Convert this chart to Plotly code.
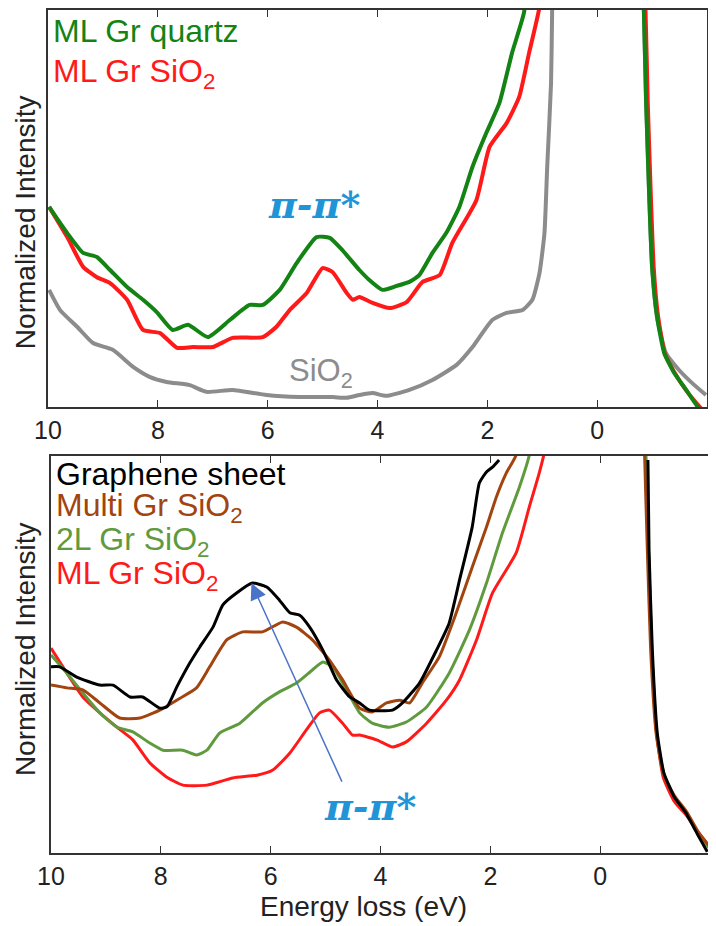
import plotly.graph_objects as go

# ---------------- data (energy loss in eV, normalized intensity in a.u.) ----------------
# Top panel
top_quartz_x = [9.98, 9.65, 9.36, 9.11, 8.87, 8.56, 8.27, 8.02, 7.73, 7.45, 7.09, 6.69, 6.33, 6.09,
                5.78, 5.47, 5.11, 4.87, 4.64, 4.33, 4.15, 3.91, 3.65, 3.42, 3.24, 3.00, 2.75, 2.51,
                2.27, 2.02, 1.78, 1.55, 1.33, 1.24,
                -0.80, -0.85, -0.89, -0.95, -1.00, -1.09, -1.22, -1.40, -1.62, -1.85, -2.00]
top_quartz_y = [50.4, 43.8, 38.8, 37.8, 34.5, 30.2, 27.0, 23.9, 19.4, 20.7, 17.6, 21.9, 25.7, 25.7,
                29.5, 36.3, 42.8, 42.6, 39.5, 34.5, 32.0, 29.5, 30.5, 31.5, 33.2, 38.8, 43.8, 50.4,
                60.5, 69.0, 76.6, 89.2, 99.5, 115,
                115, 100, 77.3, 52.1, 35.3, 22.7, 13.6, 8.6, 4.3, -0.3, -2.0]

top_ml_x = [9.98, 9.65, 9.36, 9.11, 8.87, 8.56, 8.27, 7.96, 7.65, 7.36, 7.00, 6.64, 6.09, 5.84,
            5.60, 5.29, 5.00, 4.82, 4.56, 4.45, 4.33, 4.09, 3.78, 3.47, 3.18, 2.87, 2.64, 2.20,
            1.96, 1.65, 1.42, 1.24, 1.05, 0.96,
            -0.82, -0.88, -0.92, -0.98, -1.03, -1.11, -1.23, -1.41, -1.63, -1.85, -2.00]
top_ml_y = [50.4, 42.8, 35.3, 32.7, 31.2, 27.0, 19.4, 18.6, 14.9, 15.1, 15.1, 17.4, 17.6, 20.2,
            24.4, 28.7, 35.0, 34.0, 28.7, 27.0, 27.7, 26.2, 24.9, 26.4, 31.5, 33.2, 41.3, 52.1,
            65.5, 71.5, 78.1, 89.2, 100.8, 115,
            115, 100, 77.0, 52.0, 35.0, 22.7, 13.6, 8.6, 4.0, 0.3, -2.0]

top_sio2_x = [9.98, 9.78, 9.47, 9.18, 8.82, 8.45, 8.15, 7.84, 7.42, 7.11, 6.64, 6.02, 5.42, 4.82,
              4.56, 4.33, 4.09, 3.84, 3.42, 3.00, 2.56, 2.27, 1.91, 1.65, 1.36, 1.18, 1.05, 0.96,
              0.91, 0.84, 0.82, 0.80,
              -0.82, -0.85, -0.89, -0.95, -1.00, -1.09, -1.25, -1.49, -1.73, -1.98]
top_sio2_y = [29.5, 24.4, 20.2, 16.1, 14.4, 10.1, 7.6, 6.3, 5.5, 3.8, 4.3, 3.0, 2.5, 2.5,
              2.3, 3.0, 3.5, 2.8, 4.3, 6.8, 10.6, 15.1, 21.9, 23.7, 24.4, 27.0, 33.8, 43.8,
              60.5, 81.6, 100, 115,
              115, 100, 77.3, 52.1, 35.3, 22.7, 13.6, 9.3, 6.0, 3.0]

# Bottom panel
bot_sheet_x = [10.0, 9.84, 9.53, 9.11, 8.87, 8.56, 8.33, 8.02, 7.89, 7.71, 7.47, 7.29, 7.05, 6.87,
               6.62, 6.33, 6.07, 5.84, 5.65, 5.47, 5.29, 5.05, 4.80, 4.56, 4.38, 4.20, 3.78, 3.60,
               3.29, 2.98, 2.75, 2.56, 2.33, 2.20, 2.07, 1.96, 1.84, 0.5,
               -0.87, -0.89, -0.95, -1.04, -1.16, -1.35, -1.56, -1.80, -1.95]
bot_sheet_y = [46.9, 46.9, 44.3, 42.3, 42.3, 39.3, 39.3, 36.5, 36.8, 41.8, 47.9, 51.9, 56.9, 62.5,
               65.5, 68.0, 67.0, 63.7, 60.5, 59.9, 56.9, 51.1, 43.6, 39.3, 37.8, 36.0, 36.0, 37.8,
               42.8, 51.1, 57.9, 68.8, 82.1, 93.2, 96.0, 97.2, 99.0, None,
               99.0, 76.3, 51.1, 30.2, 20.2, 14.1, 10.1, 4.0, 0.3]

bot_multi_x = [10.0, 9.71, 9.42, 9.11, 8.75, 8.38, 8.02, 7.65, 7.35, 7.11, 6.80, 6.51, 6.15, 5.78,
               5.53, 5.24, 4.93, 4.69, 4.38, 4.15, 3.89, 3.65, 3.47, 3.24, 2.93, 2.62, 2.33, 2.07,
               1.89, 1.71, 1.53, 1.45,
               -0.78, -0.81, -0.86, -0.92, -1.02, -1.15, -1.35, -1.57, -1.80, -2.00]
bot_multi_y = [42.3, 41.6, 41.1, 37.8, 34.0, 34.0, 36.0, 39.0, 41.6, 46.9, 53.7, 55.7, 55.7, 58.2,
               56.9, 53.7, 48.6, 43.6, 36.5, 35.5, 37.8, 38.5, 37.8, 42.8, 49.4, 60.5, 72.0, 82.1,
               89.7, 95.7, 100.3, 115,
               115, 100, 76.0, 51.0, 30.0, 20.0, 14.5, 10.5, 5.0, 1.5]

bot_2l_x = [10.0, 9.71, 9.42, 9.11, 8.80, 8.51, 8.20, 7.96, 7.60, 7.35, 7.16, 6.93, 6.56, 6.15,
            5.84, 5.53, 5.24, 5.05, 4.87, 4.62, 4.38, 4.15, 3.84, 3.53, 3.16, 2.75, 2.38, 2.07,
            1.78, 1.47, 1.29, 1.20,
            -0.80, -0.83, -0.88, -0.94, -1.03, -1.16, -1.36, -1.57, -1.80, -2.00]
bot_2l_y = [49.9, 45.3, 40.3, 35.3, 31.7, 30.5, 27.7, 25.9, 25.9, 24.7, 25.9, 30.2, 32.7, 37.8,
            40.6, 42.8, 46.1, 48.1, 46.9, 41.1, 35.3, 32.7, 31.7, 33.0, 36.8, 45.3, 56.2, 68.0,
            80.6, 92.2, 100.3, 115,
            115, 100, 76.0, 51.0, 30.0, 20.0, 14.0, 10.0, 4.5, 1.0]

bot_ml_x = [10.0, 9.71, 9.42, 9.11, 8.80, 8.51, 8.20, 7.89, 7.60, 7.16, 6.69, 6.25, 5.96, 5.65,
            5.35, 5.11, 4.93, 4.69, 4.51, 4.38, 4.07, 3.78, 3.53, 3.16, 2.80, 2.56, 2.25, 1.96,
            1.53, 1.29, 1.11, 1.02, 0.95,
            -0.80, -0.83, -0.88, -0.94, -1.03, -1.15, -1.35, -1.57, -1.80, -2.00]
bot_ml_y = [51.6, 45.3, 39.3, 35.3, 31.7, 28.5, 22.7, 19.1, 17.1, 17.1, 18.9, 19.6, 20.9, 25.2,
            31.0, 35.3, 36.0, 32.7, 29.7, 29.7, 28.5, 26.7, 28.0, 32.7, 38.5, 43.6, 53.7, 65.5,
            75.6, 87.2, 95.7, 100.8, 115,
            115, 100, 76.0, 51.0, 30.0, 19.0, 13.0, 9.5, 5.0, 1.5]

tick_vals = [0, 2, 4, 6, 8, 10]
tick_text = ["0", "2", "4", "6", "8", "10"]

# ---------------- styling ----------------
FONT = "Liberation Sans, Arial, sans-serif"
C_GREEN = "#138313"
C_RED = "#ff1a1a"
C_GRAY = "#8c8c8c"
C_BLACK = "#000000"
C_BROWN = "#a2440f"
C_OLIVE = "#5f9a3e"
C_BLUE = "#1f95d8"
C_ARROW = "#4a74c9"

fig = go.Figure()

def add(x, y, color, width, xa, ya):
    fig.add_trace(go.Scatter(x=x, y=y, mode="lines", xaxis=xa, yaxis=ya,
                             line=dict(color=color, width=width, shape="spline", smoothing=0.5),
                             connectgaps=False, showlegend=False, hoverinfo="skip"))

add(top_sio2_x, top_sio2_y, C_GRAY, 4, "x", "y")
add(top_ml_x, top_ml_y, C_RED, 4, "x", "y")
add(top_quartz_x, top_quartz_y, C_GREEN, 4, "x", "y")

add(bot_ml_x, bot_ml_y, C_RED, 3, "x2", "y2")
add(bot_2l_x, bot_2l_y, C_OLIVE, 3, "x2", "y2")
add(bot_multi_x, bot_multi_y, C_BROWN, 3, "x2", "y2")
add(bot_sheet_x, bot_sheet_y, C_BLACK, 3, "x2", "y2")

xcommon = dict(range=[10, -2], tickvals=tick_vals, ticktext=tick_text, ticks="inside",
               ticklen=7, tickwidth=1.2, tickcolor="#333", showline=True, linecolor="#333",
               linewidth=1.5, mirror="ticks", showgrid=False, zeroline=False, automargin=False,
               tickfont=dict(family=FONT, size=25, color="#222"))
ycommon = dict(range=[0, 100], showticklabels=False, ticks="", showline=True, linecolor="#333",
               linewidth=1.5, mirror=True, showgrid=False, zeroline=False, automargin=False)

# the page body adds an 8 px offset, so the figure is 8 px smaller and margins reduced
fig.update_layout(
    width=708, height=918,
    margin=dict(l=40, r=6, t=2, b=73),
    plot_bgcolor="white", paper_bgcolor="white",
    xaxis=dict(domain=[0, 0.9955], anchor="y", **xcommon),
    yaxis=dict(domain=[0.5291, 1], anchor="x", **ycommon),
    xaxis2=dict(domain=[0.0045, 1], anchor="y2", **xcommon),
    yaxis2=dict(domain=[0, 0.4709], anchor="x2", **ycommon),
)

ann = []
def label(text, xref, yref, x, y, color, size, xanchor="left", family=FONT, angle=0):
    ann.append(dict(text=text, xref=xref, yref=yref, x=x, y=y, xanchor=xanchor, yanchor="middle",
                    showarrow=False, textangle=angle, font=dict(family=family, size=size, color=color)))

# top panel labels
label("ML Gr quartz", "x domain", "y domain", 0.004, 0.948, C_GREEN, 32)
label("ML Gr SiO<sub>2</sub>", "x domain", "y domain", 0.004, 0.84, C_RED, 32)
label("SiO<sub>2</sub>", "x", "y", 5.02, 8.5, C_GRAY, 31, xanchor="center")
label("<b><i>π-π*</i></b>", "x", "y", 5.15, 51, C_BLUE, 38, xanchor="center", family="DejaVu Serif, serif")

# bottom panel labels
label("Graphene sheet", "x2 domain", "y2 domain", 0.005, 0.955, C_BLACK, 32)
label("Multi Gr SiO<sub>2</sub>", "x2 domain", "y2 domain", 0.005, 0.87, C_BROWN, 32)
label("2L Gr SiO<sub>2</sub>", "x2 domain", "y2 domain", 0.005, 0.785, C_OLIVE, 32)
label("ML Gr SiO<sub>2</sub>", "x2 domain", "y2 domain", 0.005, 0.70, C_RED, 32)
label("<b><i>π-π*</i></b>", "x2", "y2", 4.2, 11.6, C_BLUE, 38, xanchor="center", family="DejaVu Serif, serif")

# axis titles
label("Normalized Intensity", "paper", "y domain", -0.033, 0.466, "#222", 28, xanchor="center", angle=-90)
label("Normalized Intensity", "paper", "y2 domain", -0.033, 0.514, "#222", 28, xanchor="center", angle=-90)
label("Energy loss (eV)", "paper", "paper", 0.477, -0.063, "#222", 28, xanchor="center")

# arrow
ann.append(dict(x=6.35, y=68.0, ax=4.69, ay=17.6, xref="x2", yref="y2", axref="x2", ayref="y2",
                text="", showarrow=True, arrowhead=2, arrowsize=2.2, arrowwidth=1.5,
                arrowcolor=C_ARROW, standoff=0, startstandoff=0))

fig.update_layout(annotations=ann)
fig.write_html("out.html")
